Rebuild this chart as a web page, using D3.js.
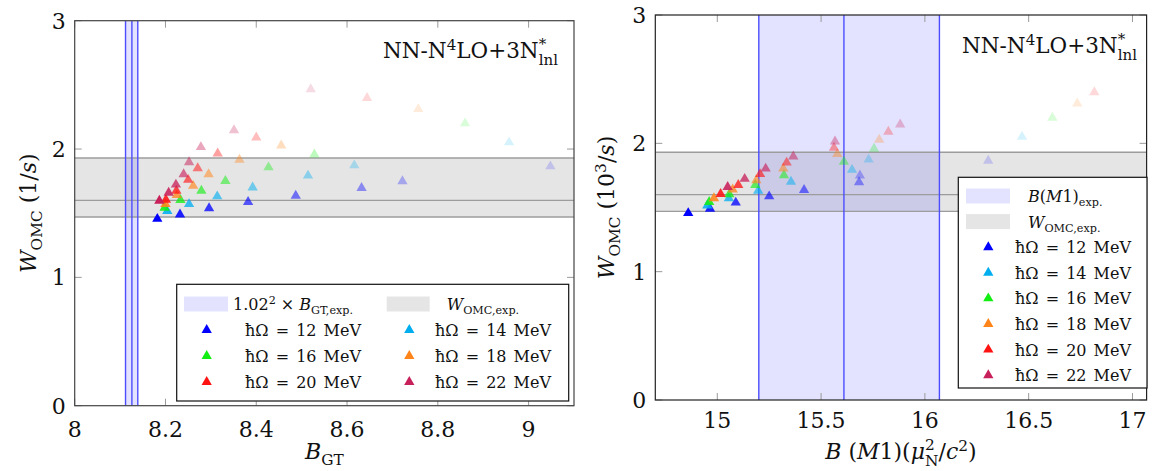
<!DOCTYPE html>
<html><head><meta charset="utf-8">
<script src="https://cdn.jsdelivr.net/npm/d3@7"></script>
<style>
html,body{margin:0;padding:0;background:#fff;}
</style></head>
<body>
<script>
// ---------------- DATA ----------------
const hwValues = [12, 14, 16, 18, 20, 22];           // ħΩ in MeV
const seriesColors = ["#0000ff", "#00aeef", "#12ee12", "#ff8419", "#ff1212", "#c8205a"];
// W_OMC (shared by both panels), 8 model-space levels per series (null = not shown)
const wOMC12 = [1.456, 1.490, 1.538, 1.587, 1.636, 1.697, 1.749, 1.865];
const wOMC14 = [null, 1.516, 1.571, 1.631, 1.701, 1.793, 1.873, 2.052];
const wOMC16 = [null, 1.543, 1.603, 1.675, 1.751, 1.857, 1.958, 2.200];
const wOMC18 = [null, 1.572, 1.641, 1.713, 1.803, 1.917, 2.028, 2.311];
const wOMC20 = [null, 1.605, 1.675, 1.760, 1.850, 1.965, 2.090, 2.398];
const wOMC22 = [1.597, 1.660, 1.723, 1.803, 1.897, 2.015, 2.147, 2.466];
// B_GT (left panel)
const bGT12 = [8.182, 8.232, 8.296, 8.382, 8.487, 8.632, 8.722, 9.048];
const bGT14 = [null, 8.204, 8.252, 8.314, 8.392, 8.514, 8.616, 8.957];
const bGT16 = [null, 8.198, 8.233, 8.279, 8.332, 8.427, 8.528, 8.860];
const bGT18 = [null, 8.200, 8.225, 8.261, 8.295, 8.363, 8.455, 8.757];
const bGT20 = [null, 8.201, 8.224, 8.250, 8.271, 8.315, 8.400, 8.644];
const bGT22 = [8.1865, 8.207, 8.223, 8.240, 8.252, 8.278, 8.351, 8.520];
// B(M1) (right panel)
const bM1_12 = [14.860, 14.965, 15.089, 15.250, 15.418, 15.683, 15.687, 16.305];
const bM1_14 = [null, 14.952, 15.056, 15.197, 15.355, 15.649, 15.729, 16.468];
const bM1_16 = [null, 14.961, 15.058, 15.183, 15.321, 15.610, 15.755, 16.614];
const bM1_18 = [null, 14.984, 15.074, 15.188, 15.318, 15.578, 15.780, 16.734];
const bM1_20 = [null, 15.016, 15.101, 15.206, 15.334, 15.562, 15.824, 16.816];
const bM1_22 = [null, 15.050, 15.132, 15.233, 15.366, 15.567, 15.881, null];
// experimental bands
const wExp = {lo: 1.47, mid: 1.60, hi: 1.93};
const bGTExp = {lo: 8.112, mid: 8.126, hi: 8.139};
const bM1Exp = {lo: 15.20, mid: 15.61, hi: 16.07};
// ticks
const yTicks = [0, 1, 2, 3];
const xTicksGT = [8, 8.2, 8.4, 8.6, 8.8, 9];
const xTicksM1 = [15, 15.5, 16, 16.5, 17];

const wAll = [wOMC12, wOMC14, wOMC16, wOMC18, wOMC20, wOMC22];
const gtAll = [bGT12, bGT14, bGT16, bGT18, bGT20, bGT22];
const m1All = [bM1_12, bM1_14, bM1_16, bM1_18, bM1_20, bM1_22];

// ---------------- DRAW ----------------
const FONT = "DejaVu Serif, Liberation Serif, serif";
const svg = d3.select("body").append("svg").attr("width", 1152).attr("height", 471)
  .attr("font-family", FONT);

const opacityOf = i => 1 - 0.12 * i;
const tri = d3.symbol().type(d3.symbolTriangle).size(46);

function rich(sel, segs, fs) {
  let cur = 0;
  sel.attr("font-family", FONT).attr("fill", "#111");
  segs.forEach(([t, f = ""]) => {
    const target = f.includes("b") ? fs * 0.28 : f.includes("p") ? -fs * 0.38 : 0;
    const ts = sel.append("tspan").text(t)
      .attr("font-size", (f.includes("b") || f.includes("p")) ? fs * 0.7 : fs)
      .attr("font-style", f.includes("i") ? "italic" : "normal");
    if (target - cur !== 0) ts.attr("dy", target - cur);
    cur = target;
  });
  return sel;
}

const panels = [
  { l: 74.7, r: 574, t: 20.7, b: 405.7, xdom: [8, 9.1], xticks: xTicksGT, xs: gtAll, band: bGTExp,
    boxColor: "#444", titleX: 558, titleY: 58.3,
    ylabel: [["W", "i"], ["OMC", "b"], [" (1/", ""], ["s", "i"], [")", ""]], ylabX: 36,
    xlabel: [["B", "i"], ["GT", "b"]], xlabY: 459, tickY: 437 },
  { l: 655.3, r: 1146.6, t: 15, b: 400, xdom: [14.7014, 17.068], xticks: xTicksM1, xs: m1All, band: bM1Exp,
    boxColor: "#222", titleX: 1137, titleY: 53.3,
    ylabel: [["W", "i"], ["OMC", "b"], [" (10", ""], ["3", "p"], ["/", ""], ["s", "i"], [")", ""]], ylabX: 614,
    xlabel: [["B", "i"], [" (", ""], ["M", "i"], ["1)(", ""], ["μ", "i"]], xlabY: 459, tickY: 428 }
];

panels.forEach((P, pi) => {
  const g = svg.append("g");
  const x = d3.scaleLinear().domain(P.xdom).range([P.l, P.r]);
  const y = d3.scaleLinear().domain([0, 3]).range([P.b, P.t]);
  const clipId = "clip" + pi;
  svg.append("clipPath").attr("id", clipId).append("rect")
    .attr("x", P.l).attr("y", P.t).attr("width", P.r - P.l).attr("height", P.b - P.t);
  const pg = g.append("g").attr("clip-path", `url(#${clipId})`);

  pg.append("rect").attr("x", P.l).attr("width", P.r - P.l)
    .attr("y", y(wExp.hi)).attr("height", y(wExp.lo) - y(wExp.hi)).attr("fill", "#e5e5e5");
  pg.append("rect").attr("x", x(P.band.lo)).attr("width", x(P.band.hi) - x(P.band.lo))
    .attr("y", P.t).attr("height", P.b - P.t).attr("fill", "#0000ff").attr("fill-opacity", 0.11);
  [wExp.lo, wExp.mid, wExp.hi].forEach(v => {
    pg.append("line").attr("x1", P.l).attr("x2", P.r).attr("y1", y(v)).attr("y2", y(v))
      .attr("stroke", "#9c9c9c").attr("stroke-width", 1.4);
  });
  [P.band.lo, P.band.mid, P.band.hi].forEach(v => {
    pg.append("line").attr("x1", x(v)).attr("x2", x(v)).attr("y1", P.t).attr("y2", P.b)
      .attr("stroke", "#4d4dff").attr("stroke-width", 1.4);
  });

  const tk = g.append("g").attr("stroke", "#9a9a9a").attr("stroke-width", 1);
  P.xticks.forEach(v => {
    tk.append("line").attr("x1", x(v)).attr("x2", x(v)).attr("y1", P.b).attr("y2", P.b - 7);
    tk.append("line").attr("x1", x(v)).attr("x2", x(v)).attr("y1", P.t).attr("y2", P.t + 7);
  });
  yTicks.forEach(v => {
    tk.append("line").attr("y1", y(v)).attr("y2", y(v)).attr("x1", P.l).attr("x2", P.l + 7);
    tk.append("line").attr("y1", y(v)).attr("y2", y(v)).attr("x1", P.r).attr("x2", P.r - 7);
  });

  hwValues.forEach((hw, si) => {
    const pts = wAll[si].map((w, i) => ({ x: P.xs[si][i], y: w, i }))
      .filter(d => d.x != null && d.y != null);
    pg.append("g").selectAll("path").data(pts).join("path")
      .attr("d", tri)
      .attr("transform", d => `translate(${x(d.x)},${y(d.y)})`)
      .attr("fill", seriesColors[si])
      .attr("fill-opacity", d => opacityOf(d.i));
  });

  P.xticks.forEach(v => {
    g.append("text").attr("x", x(v)).attr("y", P.tickY).attr("text-anchor", "middle")
      .attr("font-family", FONT).attr("font-size", 22).attr("fill", "#111").text(String(v));
  });
  yTicks.forEach(v => {
    g.append("text").attr("x", P.l - 9).attr("y", y(v) + 8).attr("text-anchor", "end")
      .attr("font-family", FONT).attr("font-size", 22).attr("fill", "#111").text(v);
  });

  g.append("rect").attr("x", P.l).attr("y", P.t).attr("width", P.r - P.l).attr("height", P.b - P.t)
    .attr("fill", "none").attr("stroke", P.boxColor).attr("stroke-width", 1.2);

  // title with stacked * / lnl scripts
  const tfs = 21.5;
  const tt = g.append("text").attr("x", P.titleX).attr("y", P.titleY).attr("text-anchor", "end");
  rich(tt, [["NN-N", ""], ["4", "p"], ["LO+3N", ""]], tfs);
  tt.append("tspan").text("*").attr("font-size", tfs * 0.7).attr("dy", -tfs * 0.42);
  const starW = tt.select("tspan:last-child").node().getComputedTextLength();
  tt.append("tspan").text("lnl").attr("font-size", tfs * 0.7).attr("dx", -starW).attr("dy", tfs * 0.42 + tfs * 0.32);

  const yl = g.append("text").attr("text-anchor", "middle")
    .attr("transform", `translate(${P.ylabX},${(P.t + P.b) / 2}) rotate(-90)`);
  rich(yl, P.ylabel, 22);
  const xl = g.append("text").attr("x", (P.l + P.r) / 2).attr("y", P.xlabY).attr("text-anchor", "middle");
  rich(xl, P.xlabel, 22);
  if (pi === 1) {
    const fs = 22;
    xl.append("tspan").text("2").attr("font-size", fs * 0.7).attr("dy", -fs * 0.42);
    const supW = xl.select("tspan:last-child").node().getComputedTextLength();
    xl.append("tspan").text("N").attr("font-size", fs * 0.7).attr("dx", -supW).attr("dy", fs * 0.42 + fs * 0.3);
    xl.append("tspan").text("/").attr("font-size", fs).attr("dy", -fs * 0.3);
    xl.append("tspan").text("c").attr("font-size", fs).attr("font-style", "italic");
    xl.append("tspan").text("2").attr("font-size", fs * 0.7).attr("dy", -fs * 0.38);
    xl.append("tspan").text(")").attr("font-size", fs).attr("dy", fs * 0.38);
  }
});

// ---------------- LEGENDS ----------------
const lfs = 16;
function hwText(sel, hw) {
  sel.attr("font-family", FONT).attr("fill", "#111").attr("font-size", lfs).attr("word-spacing", 2)
    .text(`ħΩ = ${hw} MeV`);
}
{
  const g = svg.append("g");
  g.append("rect").attr("x", 176.7).attr("y", 284.3).attr("width", 392).attr("height", 116.7)
    .attr("fill", "#fff").attr("stroke", "#111").attr("stroke-width", 1.2);
  const r0 = 304;
  g.append("rect").attr("x", 184).attr("y", r0 - 7.5).attr("width", 44).attr("height", 15)
    .attr("fill", "#0000ff").attr("fill-opacity", 0.11);
  rich(g.append("text").attr("x", 233).attr("y", r0 + 6),
    [["1.02", ""], ["2", "p"], [" × ", ""], ["B", "i"], ["GT,exp.", "b"]], lfs);
  g.append("rect").attr("x", 386.7).attr("y", r0 - 7.5).attr("width", 43).attr("height", 15)
    .attr("fill", "#e5e5e5");
  rich(g.append("text").attr("x", 446.7).attr("y", r0 + 6),
    [["W", "i"], ["OMC,exp.", "b"]], lfs);
  hwValues.forEach((hw, si) => {
    const row = Math.floor(si / 2), col = si % 2;
    const cy = 330 + row * 26;
    const mx = col === 0 ? 206.7 : 409.3, tx = col === 0 ? 245 : 435;
    g.append("path").attr("d", tri).attr("transform", `translate(${mx},${cy})`).attr("fill", seriesColors[si]);
    hwText(g.append("text").attr("x", tx).attr("y", cy + 6), hw);
  });
}
{
  const g = svg.append("g");
  g.append("rect").attr("x", 958.3).attr("y", 177.3).attr("width", 188.7).attr("height", 210.7)
    .attr("fill", "#fff").attr("stroke", "#111").attr("stroke-width", 1.2);
  const rows = d3.range(8).map(i => 196 + 25.6 * i);
  g.append("rect").attr("x", 966).attr("y", rows[0] - 7.5).attr("width", 44).attr("height", 15)
    .attr("fill", "#0000ff").attr("fill-opacity", 0.11);
  rich(g.append("text").attr("x", 1028).attr("y", rows[0] + 6),
    [["B", "i"], ["(", ""], ["M", "i"], ["1)", ""], ["exp.", "b"]], lfs);
  g.append("rect").attr("x", 966).attr("y", rows[1] - 7.5).attr("width", 44).attr("height", 15)
    .attr("fill", "#e5e5e5");
  rich(g.append("text").attr("x", 1028).attr("y", rows[1] + 6),
    [["W", "i"], ["OMC,exp.", "b"]], lfs);
  hwValues.forEach((hw, si) => {
    const cy = rows[si + 2];
    g.append("path").attr("d", tri).attr("transform", `translate(988.3,${cy})`).attr("fill", seriesColors[si]);
    hwText(g.append("text").attr("x", 1015).attr("y", cy + 6), hw);
  });
}
</script>
</body></html>
